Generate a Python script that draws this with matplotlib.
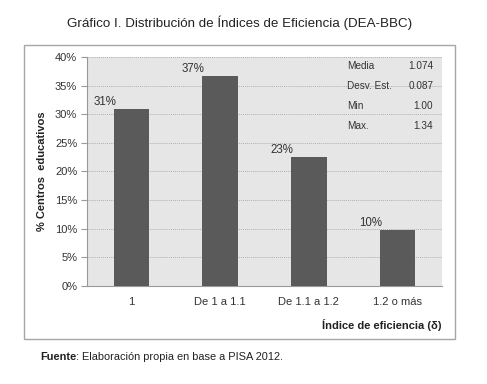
import numpy as np
import matplotlib.pyplot as plt
from matplotlib.patches import Rectangle

plt.rcParams['font.family'] = ['Liberation Sans', 'DejaVu Sans']

categorias = ['1', 'De 1 a 1.1', 'De 1.1 a 1.2', '1.2 o más']
valores = [30.9, 36.7, 22.5, 9.8]
etiquetas = ['31%', '37%', '23%', '10%']

est_nombres = ['Media', 'Desv. Est.', 'Min', 'Max.']
est_valores = ['1.074', '0.087', '1.00', '1.34']

fig = plt.figure(figsize=(4.87, 3.84), dpi=100)
fig.patch.set_facecolor('white')

# marco exterior del grafico
fig.patches.append(Rectangle((0.049, 0.117), 0.885, 0.766, transform=fig.transFigure,
                             fill=False, edgecolor='#a6a6a6', linewidth=1.0))

ax = fig.add_axes([0.1786, 0.2552, 0.729, 0.5964])
ax.set_facecolor('#e6e6e6')

x = np.arange(len(categorias))
ax.bar(x, valores, width=0.4, color='#5a5a5a', zorder=3)

for i in range(len(x)):
    ax.text(x[i] - 0.3, valores[i] + 0.2, etiquetas[i], ha='center', va='bottom',
            fontsize=8.3, color='#333333', zorder=4)

ax.set_xlim(-0.5, 3.5)
ax.set_ylim(0, 40)
ax.set_yticks(np.arange(0, 41, 5))
ax.set_yticklabels([str(v) + '%' for v in range(0, 41, 5)], fontsize=8, color='#333333')
ax.set_xticks(x)
ax.set_xticklabels(categorias, fontsize=8, color='#333333')
ax.tick_params(axis='x', length=0, pad=8)
ax.tick_params(axis='y', length=4, color='#999999', pad=3)

ax.yaxis.grid(True, linestyle=(0, (1, 1)), color='#b0b0b0', linewidth=0.7, zorder=0)
ax.set_axisbelow(True)
for s in ['top', 'right']:
    ax.spines[s].set_visible(False)
ax.spines['left'].set_color('#999999')
ax.spines['bottom'].set_color('#999999')

ax.set_ylabel('% Centros  educativos', fontsize=8, fontweight='bold', color='#222222',
              labelpad=6)

# tabla de estadisticos
filas_y = [0.961, 0.873, 0.786, 0.699]
for i in range(len(est_nombres)):
    ax.text(0.732, filas_y[i], est_nombres[i], transform=ax.transAxes, fontsize=7.2,
            va='center', ha='left', color='#333333', zorder=4)
    ax.text(0.975, filas_y[i], est_valores[i], transform=ax.transAxes, fontsize=7.2,
            va='center', ha='right', color='#333333', zorder=4)

fig.text(0.493, 0.94, 'Gráfico I. Distribución de Índices de Eficiencia (DEA-BBC)',
         ha='center', va='center', fontsize=9.6, color='#222222')
fig.text(0.907, 0.153, 'Índice de eficiencia (δ)', ha='right', va='center',
         fontsize=8, fontweight='bold', color='#222222')

# nota de fuente: parte en negrita y resto normal
t1 = fig.text(0.082, 0.07, 'Fuente', ha='left', va='center', fontsize=7.9,
              fontweight='bold', color='#222222')
fig.canvas.draw()
bb = t1.get_window_extent().transformed(fig.transFigure.inverted())
fig.text(bb.x1, 0.07, ': Elaboración propia en base a PISA 2012.', ha='left',
         va='center', fontsize=7.9, color='#222222')

fig.savefig('out.png', dpi=100)
